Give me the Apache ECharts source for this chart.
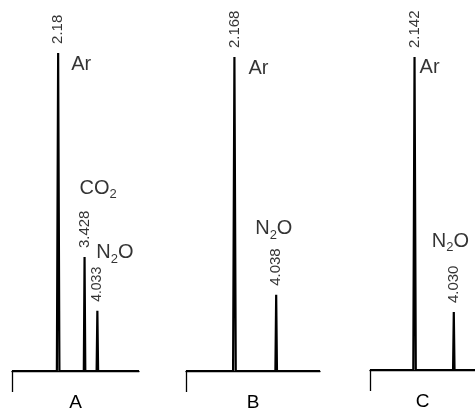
<!DOCTYPE html>
<html><head><meta charset="utf-8">
<script src="https://cdn.jsdelivr.net/npm/echarts@6/dist/echarts.min.js"></script>
<style>html,body{margin:0;padding:0;background:#fff}#c{width:475px;height:412px}</style>
</head><body><div id="c"></div>
<script>
// ---- data (retention time in min, peak response in % of scale) ----
const panelNames = ['A', 'B', 'C'];

const retentionA = [2.18, 3.428, 4.033];
const responseA  = [99.4, 35.6, 18.8];
const rtLabelsA  = ['2.18', '3.428', '4.033'];
const compoundsA = ['Ar', 'CO2', 'N2O'];

const retentionB = [2.168, 4.038];
const responseB  = [98.1, 23.8];
const rtLabelsB  = ['2.168', '4.038'];
const compoundsB = ['Ar', 'N2O'];

const retentionC = [2.142, 4.030];
const responseC  = [97.8, 18.1];
const rtLabelsC  = ['2.142', '4.030'];
const compoundsC = ['Ar', 'N2O'];

const timeMin = 0;
const timeMaxes = [6, 6, 5.05];

// ---- layout / style (not data) ----
const gridBoxes = [
  {left: 12,  width: 127, top: 51, height: 320},
  {left: 186, width: 134, top: 51, height: 320},
  {left: 370, width: 105, top: 50, height: 320}
];
const nameOffsets = [
  [[13, 13], [-5, -68], [-1, -57]],
  [[14, 12], [-21, -65]],
  [[5, 11], [-22, -70]]
];
const rtLabelFont = [[15, 15, 14], [15, 15], [15, 15]];
const peakHalfWidth = [0.06, 0.035, 0.035];

const panels = [
  {rt: retentionA, h: responseA, lab: rtLabelsA, cmp: compoundsA},
  {rt: retentionB, h: responseB, lab: rtLabelsB, cmp: compoundsB},
  {rt: retentionC, h: responseC, lab: rtLabelsC, cmp: compoundsC}
];

function trace(p, tMax) {
  const d = [[timeMin, 0]];
  p.rt.forEach((t, i) => {
    const w = peakHalfWidth[i];
    d.push([t - w, 0], [t, p.h[i]], [t + w, 0]);
  });
  d.push([tMax, 0]);
  return d;
}
function chem(s) { return s.replace(/(\d)/g, '{s|$1}').replace(/^([^{]+)/, '{m|$1}').replace(/\}([A-Za-z]+)$/, '}{m|$1}'); }

const FONT = 'Liberation Sans, Arial, sans-serif';
const grid = [], xAxis = [], yAxis = [], series = [];
panels.forEach((p, i) => {
  grid.push(Object.assign({containLabel: false, outerBoundsMode: 'none'}, gridBoxes[i]));
  xAxis.push({
    type: 'value', gridIndex: i, min: timeMin, max: timeMaxes[i],
    axisLine: {show: true, onZero: false, lineStyle: {color: '#000', width: 1.3}},
    axisTick: {show: true, customValues: [timeMin], length: 21, inside: false, lineStyle: {color: '#000', width: 1.3}},
    axisLabel: {show: false}, splitLine: {show: false},
    name: panelNames[i], nameLocation: 'middle', nameGap: 22,
    nameTextStyle: {fontSize: 19, color: '#000', fontFamily: FONT, verticalAlign: 'top'}
  });
  yAxis.push({type: 'value', gridIndex: i, min: 0, max: 100, show: false});
  series.push({
    type: 'line', xAxisIndex: i, yAxisIndex: i, data: trace(p, timeMaxes[i]),
    showSymbol: false, symbol: 'none', silent: true,
    lineStyle: {color: '#000', width: 2.2}
  });
  series.push({
    type: 'scatter', xAxisIndex: i, yAxisIndex: i, symbolSize: 0, silent: true,
    data: p.rt.map((t, j) => ({value: [t, p.h[j]], label: {fontSize: rtLabelFont[i][j]}})),
    label: {
      show: true, position: 'top', distance: 9, rotate: 90, align: 'left', verticalAlign: 'middle',
      formatter: q => p.lab[q.dataIndex], fontSize: 15, color: '#000', fontFamily: FONT
    }
  });
  series.push({
    type: 'scatter', xAxisIndex: i, yAxisIndex: i, symbolSize: 0, silent: true,
    data: p.rt.map((t, j) => ({value: [t, p.h[j]], label: {offset: nameOffsets[i][j]}})),
    label: {
      show: true, position: [0, 0], align: 'left', verticalAlign: 'middle',
      formatter: q => chem(p.cmp[q.dataIndex]),
      rich: {
        m: {fontSize: 20, color: '#000', fontFamily: FONT, lineHeight: 22, verticalAlign: 'top'},
        s: {fontSize: 13, color: '#000', fontFamily: FONT, lineHeight: 13, padding: [10, 0, 0, 0], verticalAlign: 'top'}
      }
    }
  });
});

const chart = echarts.init(document.getElementById('c'), null, {renderer: 'canvas'});
chart.setOption({animation: false, backgroundColor: '#fff', grid, xAxis, yAxis, series});
</script>
</body></html>
